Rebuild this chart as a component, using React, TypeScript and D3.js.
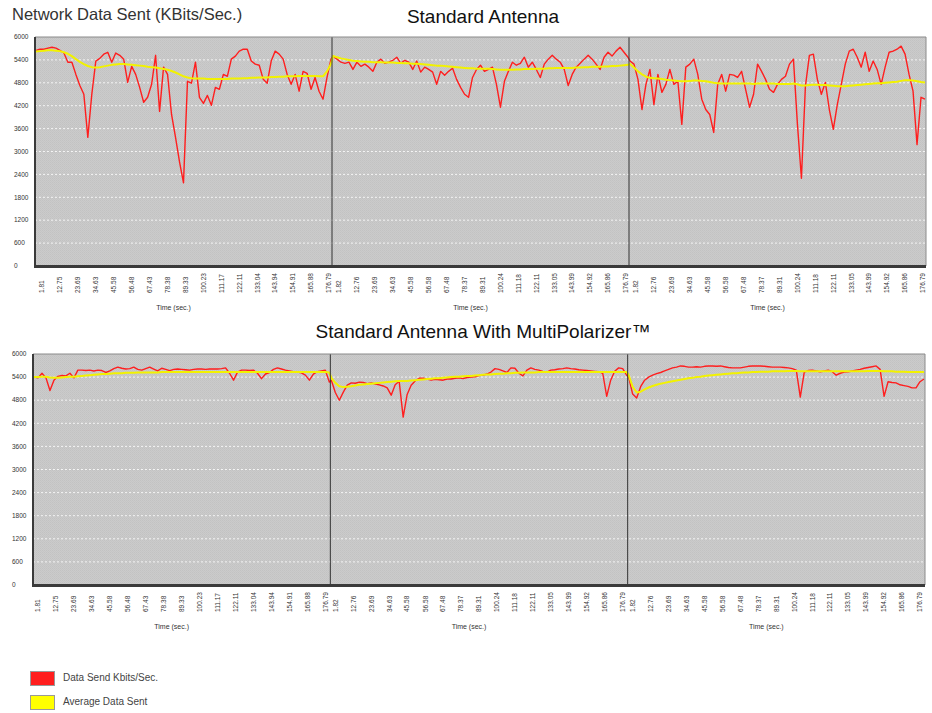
import * as d3 from 'd3';

// y axis ticks (KBits/Sec.)
const yTicks = [0, 600, 1200, 1800, 2400, 3000, 3600, 4200, 4800, 5400, 6000];

// x tick labels, time in seconds (first panel / following panels)
const timeLabelsFirst = ['1.81', '12.75', '23.69', '34.63', '45.58', '56.48', '67.43', '78.38', '89.33', '100.23', '111.17', '122.11', '133.04', '143.94', '154.91', '165.88', '176.79'];
const timeLabelsRest = ['1.82', '12.76', '23.69', '34.63', '45.58', '56.58', '67.48', '78.37', '89.31', '100.24', '111.18', '122.11', '133.05', '143.99', '154.92', '165.86', '176.79'];

// Standard Antenna - data sent
const sentTop1 = [5650, 5680, 5680, 5710, 5730, 5710, 5650, 5580, 5340, 5340, 5020, 4730, 4500, 3370, 4500, 5370, 5440, 5550, 5600, 5340, 5580, 5520, 5420, 4810, 5230, 5020, 4680, 4290, 4420, 4760, 5520, 4050, 5210, 5020, 3970, 3370, 2730, 2180, 4840, 4790, 5340, 4420, 4260, 4470, 4210, 4680, 4630, 5020, 4970, 5420, 5500, 5630, 5680, 5680, 5370, 5290, 5260, 4890, 4790, 5370, 5630, 5550, 5420, 5020, 4760, 5020, 4580, 5100, 5050, 4630, 4940, 4580, 4370, 4940, 5420];
const avgTop1 = [5620, 5630, 5640, 5650, 5650, 5640, 5630, 5600, 5560, 5500, 5420, 5350, 5290, 5240, 5210, 5200, 5210, 5230, 5250, 5270, 5280, 5290, 5290, 5280, 5270, 5260, 5250, 5240, 5220, 5210, 5200, 5180, 5160, 5140, 5110, 5070, 5020, 4970, 4940, 4920, 4910, 4910, 4910, 4900, 4900, 4900, 4900, 4900, 4900, 4910, 4910, 4910, 4920, 4920, 4930, 4930, 4940, 4940, 4940, 4950, 4950, 4960, 4960, 4970, 4970, 4970, 4980, 4980, 4980, 4980, 4980, 4970, 4970, 5100, 5300];
const sentTop2 = [5500, 5420, 5340, 5310, 5340, 5150, 5340, 5230, 5290, 5210, 5100, 5340, 5420, 5310, 5340, 5390, 5470, 5310, 5390, 5340, 5150, 5370, 5080, 5210, 5150, 5080, 4760, 5100, 5000, 5100, 5180, 4890, 4680, 4500, 4420, 4940, 5150, 5260, 5100, 5150, 5210, 4760, 4160, 4840, 5100, 5340, 5260, 5310, 5470, 5210, 5340, 5150, 4940, 5290, 5420, 5520, 5420, 5340, 5150, 4730, 5020, 5210, 5310, 5420, 5520, 5420, 5290, 5150, 5470, 5600, 5500, 5630, 5730, 5600, 5470];
const avgTop2 = [5500, 5470, 5440, 5420, 5400, 5380, 5370, 5360, 5350, 5350, 5340, 5340, 5340, 5330, 5330, 5330, 5320, 5320, 5310, 5310, 5300, 5300, 5290, 5280, 5270, 5260, 5250, 5250, 5240, 5230, 5220, 5210, 5200, 5190, 5180, 5180, 5170, 5170, 5170, 5170, 5160, 5150, 5140, 5140, 5140, 5140, 5150, 5150, 5160, 5160, 5160, 5170, 5170, 5170, 5180, 5180, 5190, 5190, 5190, 5190, 5190, 5200, 5200, 5210, 5210, 5220, 5220, 5220, 5230, 5230, 5240, 5240, 5250, 5260, 5270];
const sentTop3 = [5370, 5290, 4890, 4100, 4760, 5150, 4230, 5020, 4550, 4760, 5150, 4760, 4840, 3710, 5210, 5290, 5420, 5020, 4370, 4100, 3970, 3500, 4760, 5020, 4580, 5020, 5000, 4940, 5100, 4630, 4160, 4500, 5290, 5100, 4890, 4630, 4550, 4760, 4890, 4970, 5290, 5420, 3710, 2300, 4710, 5520, 5550, 4890, 4500, 4810, 4100, 3580, 4230, 4760, 5290, 5630, 5680, 5470, 5210, 5600, 5100, 5370, 5150, 4760, 5210, 5600, 5630, 5680, 5760, 5550, 5020, 4580, 3180, 4420, 4370];
const avgTop3 = [5290, 5200, 5100, 5020, 4960, 4930, 4920, 4910, 4900, 4880, 4870, 4860, 4850, 4840, 4840, 4850, 4860, 4860, 4850, 4840, 4820, 4800, 4790, 4780, 4780, 4780, 4780, 4780, 4780, 4780, 4780, 4770, 4780, 4780, 4780, 4780, 4780, 4770, 4770, 4770, 4770, 4780, 4760, 4730, 4730, 4740, 4750, 4750, 4740, 4740, 4730, 4720, 4710, 4710, 4710, 4720, 4730, 4740, 4750, 4760, 4770, 4780, 4790, 4790, 4800, 4810, 4820, 4830, 4850, 4870, 4870, 4860, 4840, 4820, 4810];

// Standard Antenna With MultiPolarizer - data sent
const sentBot1 = [5400, 5380, 5500, 5380, 5050, 5320, 5420, 5440, 5430, 5500, 5380, 5580, 5580, 5570, 5580, 5560, 5580, 5570, 5520, 5560, 5620, 5660, 5630, 5610, 5620, 5660, 5600, 5580, 5620, 5660, 5610, 5560, 5630, 5600, 5570, 5600, 5610, 5600, 5590, 5580, 5600, 5610, 5610, 5600, 5610, 5610, 5610, 5620, 5640, 5500, 5320, 5530, 5580, 5580, 5570, 5580, 5500, 5360, 5480, 5520, 5600, 5640, 5610, 5580, 5560, 5540, 5530, 5510, 5450, 5320, 5480, 5540, 5560, 5580, 5270];
const avgBot1 = [5400, 5400, 5410, 5410, 5390, 5380, 5380, 5390, 5400, 5410, 5410, 5420, 5430, 5440, 5450, 5460, 5470, 5480, 5480, 5490, 5500, 5500, 5500, 5510, 5510, 5510, 5520, 5520, 5520, 5520, 5520, 5520, 5530, 5530, 5530, 5530, 5530, 5530, 5530, 5530, 5530, 5530, 5530, 5530, 5530, 5530, 5530, 5530, 5530, 5530, 5530, 5530, 5530, 5530, 5530, 5530, 5530, 5530, 5530, 5530, 5530, 5530, 5530, 5530, 5530, 5530, 5530, 5530, 5530, 5530, 5530, 5530, 5530, 5530, 5520];
const sentBot2 = [5320, 5000, 4800, 5010, 5190, 5250, 5240, 5270, 5260, 5230, 5250, 5220, 5200, 5170, 5120, 4930, 5200, 5290, 4360, 4950, 5190, 5300, 5370, 5370, 5350, 5320, 5340, 5330, 5320, 5350, 5350, 5370, 5380, 5360, 5390, 5400, 5410, 5440, 5450, 5480, 5530, 5620, 5600, 5560, 5520, 5640, 5630, 5500, 5430, 5580, 5640, 5600, 5580, 5550, 5530, 5580, 5590, 5610, 5620, 5640, 5620, 5610, 5590, 5580, 5570, 5560, 5550, 5540, 5500, 4900, 5320, 5550, 5640, 5620, 5450];
const avgBot2 = [5380, 5250, 5160, 5140, 5150, 5160, 5180, 5200, 5210, 5220, 5230, 5240, 5250, 5260, 5270, 5280, 5290, 5300, 5300, 5300, 5310, 5320, 5330, 5340, 5350, 5360, 5370, 5370, 5380, 5390, 5400, 5410, 5410, 5420, 5430, 5430, 5440, 5450, 5460, 5470, 5470, 5480, 5490, 5490, 5500, 5500, 5510, 5510, 5520, 5520, 5520, 5520, 5530, 5530, 5530, 5530, 5530, 5530, 5530, 5530, 5530, 5530, 5530, 5530, 5530, 5530, 5530, 5530, 5530, 5530, 5530, 5530, 5530, 5530, 5530];
const sentBot3 = [5400, 4960, 4860, 5150, 5320, 5400, 5450, 5490, 5520, 5560, 5600, 5640, 5660, 5690, 5680, 5660, 5660, 5670, 5660, 5680, 5690, 5690, 5680, 5690, 5670, 5650, 5640, 5640, 5640, 5660, 5680, 5690, 5690, 5690, 5680, 5670, 5660, 5660, 5660, 5650, 5640, 5620, 5580, 4880, 5530, 5570, 5580, 5560, 5540, 5560, 5580, 5540, 5450, 5500, 5530, 5540, 5560, 5580, 5600, 5630, 5650, 5670, 5690, 5600, 4900, 5280, 5260, 5250, 5200, 5180, 5160, 5120, 5120, 5280, 5350];
const avgBot3 = [5450, 5150, 5000, 5020, 5080, 5130, 5170, 5200, 5230, 5250, 5270, 5290, 5310, 5330, 5350, 5370, 5380, 5400, 5410, 5430, 5440, 5450, 5460, 5470, 5480, 5490, 5500, 5500, 5510, 5520, 5520, 5530, 5530, 5540, 5540, 5540, 5550, 5550, 5550, 5550, 5560, 5560, 5560, 5550, 5550, 5550, 5550, 5550, 5550, 5550, 5550, 5550, 5550, 5550, 5550, 5550, 5550, 5550, 5550, 5550, 5560, 5560, 5560, 5560, 5550, 5550, 5550, 5540, 5540, 5540, 5530, 5530, 5530, 5530, 5530];

const FONT = '"Liberation Sans", Arial, sans-serif';

type ChartProps = {
  x0: number;
  x1: number;
  y0: number;
  y1: number;
  sent: number[][];
  avg: number[][];
  tickPad: [number, number];
};

function Chart({ x0, x1, y0, y1, sent, avg, tickPad }: ChartProps) {
  const y = d3.scaleLinear().domain([0, 6000]).range([y1, y0]);
  const split = d3.scaleLinear().domain([0, 3]).range([x0, x1]);

  // one continuous line running through the three panels
  const sentPts: [number, number][] = [];
  const avgPts: [number, number][] = [];
  sent.forEach((vals, p) => {
    const x = d3
      .scaleLinear()
      .domain([0, vals.length - 1])
      .range([split(p) + 1, split(p + 1) - 1]);
    vals.forEach((v, i) => sentPts.push([x(i), y(v)]));
    avg[p].forEach((v, i) => avgPts.push([x(i), y(v)]));
  });
  const line = d3.line<[number, number]>();

  return (
    <g>
      <rect x={x0} y={y0} width={x1 - x0} height={y1 - y0} fill="url(#tex)" />
      {yTicks
        .filter((t) => t > 0 && t < 6000)
        .map((t) => (
          <line key={t} x1={x0} x2={x1} y1={y(t)} y2={y(t)} stroke="#f4f4f4" strokeWidth={1} strokeDasharray="2,2" />
        ))}
      {yTicks.map((t) => (
        <text key={t} x={x0 - 21} y={y(t)} dy="0.35em" fontSize={6.5} fill="#333" fontFamily={FONT}>
          {t}
        </text>
      ))}
      <path d={line(sentPts) || ''} fill="none" stroke="#ff1e1e" strokeWidth={1.4} strokeLinejoin="round" />
      <path d={line(avgPts) || ''} fill="none" stroke="#f2f200" strokeWidth={2} strokeLinejoin="round" />
      {[1, 2].map((p) => (
        <line key={p} x1={split(p)} x2={split(p)} y1={y0} y2={y1} stroke="#333" strokeWidth={1} />
      ))}
      {/* frame */}
      <line x1={x0} x2={x1} y1={y0} y2={y0} stroke="#8a8a8a" strokeWidth={1} />
      <line x1={x1} x2={x1} y1={y0} y2={y1} stroke="#8a8a8a" strokeWidth={1} />
      <line x1={x0} x2={x0} y1={y0} y2={y1 + 1} stroke="#3a3a3a" strokeWidth={2} />
      <line x1={x0 - 1} x2={x1} y1={y1 + 0.5} y2={y1 + 0.5} stroke="#3a3a3a" strokeWidth={3} />
      {[0, 1, 2].map((p) => {
        const labels = p === 0 ? timeLabelsFirst : timeLabelsRest;
        const tx = d3
          .scaleLinear()
          .domain([1.81, 176.79])
          .range([split(p) + tickPad[0], split(p + 1) - tickPad[1]]);
        return (
          <g key={p}>
            {labels.map((l) => (
              <text
                key={l}
                transform={`translate(${tx(parseFloat(l))},${y1 + 27}) rotate(-90)`}
                dy="0.35em"
                fontSize={6.5}
                fill="#333"
                fontFamily={FONT}
              >
                {l}
              </text>
            ))}
            <text
              x={(split(p) + split(p + 1)) / 2 - 10}
              y={y1 + 44}
              textAnchor="middle"
              fontSize={7}
              fill="#333"
              fontFamily={FONT}
            >
              Time (sec.)
            </text>
          </g>
        );
      })}
    </g>
  );
}

export default function App() {
  return (
    <svg width={932} height={713} style={{ display: 'block', position: 'absolute', left: 0, top: 0, background: '#fff' }}>
      <defs>
        <pattern id="tex" width={2} height={2} patternUnits="userSpaceOnUse">
          <rect width={2} height={2} fill="#cbcbcb" />
          <rect width={1} height={1} fill="#c2c2c2" />
          <rect x={1} y={1} width={1} height={1} fill="#c5c5c5" />
        </pattern>
      </defs>
      <text x={12} y={20} fontSize={16.5} fill="#333" fontFamily={FONT}>
        Network Data Sent (KBits/Sec.)
      </text>
      <text x={483} y={23} textAnchor="middle" fontSize={19} fill="#111" fontFamily={FONT}>
        Standard Antenna
      </text>
      <Chart
        x0={35}
        x1={926}
        y0={37}
        y1={266}
        sent={[sentTop1, sentTop2, sentTop3]}
        avg={[avgTop1, avgTop2, avgTop3]}
        tickPad={[7, 3]}
      />
      <text x={483} y={338} textAnchor="middle" fontSize={19} fill="#111" fontFamily={FONT}>
        Standard Antenna With MultiPolarizer™
      </text>
      <Chart
        x0={33}
        x1={925}
        y0={354}
        y1={585}
        sent={[sentBot1, sentBot2, sentBot3]}
        avg={[avgBot1, avgBot2, avgBot3]}
        tickPad={[5, 5]}
      />
      <rect x={30.5} y={671.5} width={24} height={14} fill="#ff1e1e" stroke="#999" />
      <text x={63} y={681} fontSize={10} fill="#444" fontFamily={FONT}>
        Data Send Kbits/Sec.
      </text>
      <rect x={30.5} y={695.5} width={24} height={14} fill="#ffff00" stroke="#999" />
      <text x={63} y={705} fontSize={10} fill="#444" fontFamily={FONT}>
        Average Data Sent
      </text>
    </svg>
  );
}
